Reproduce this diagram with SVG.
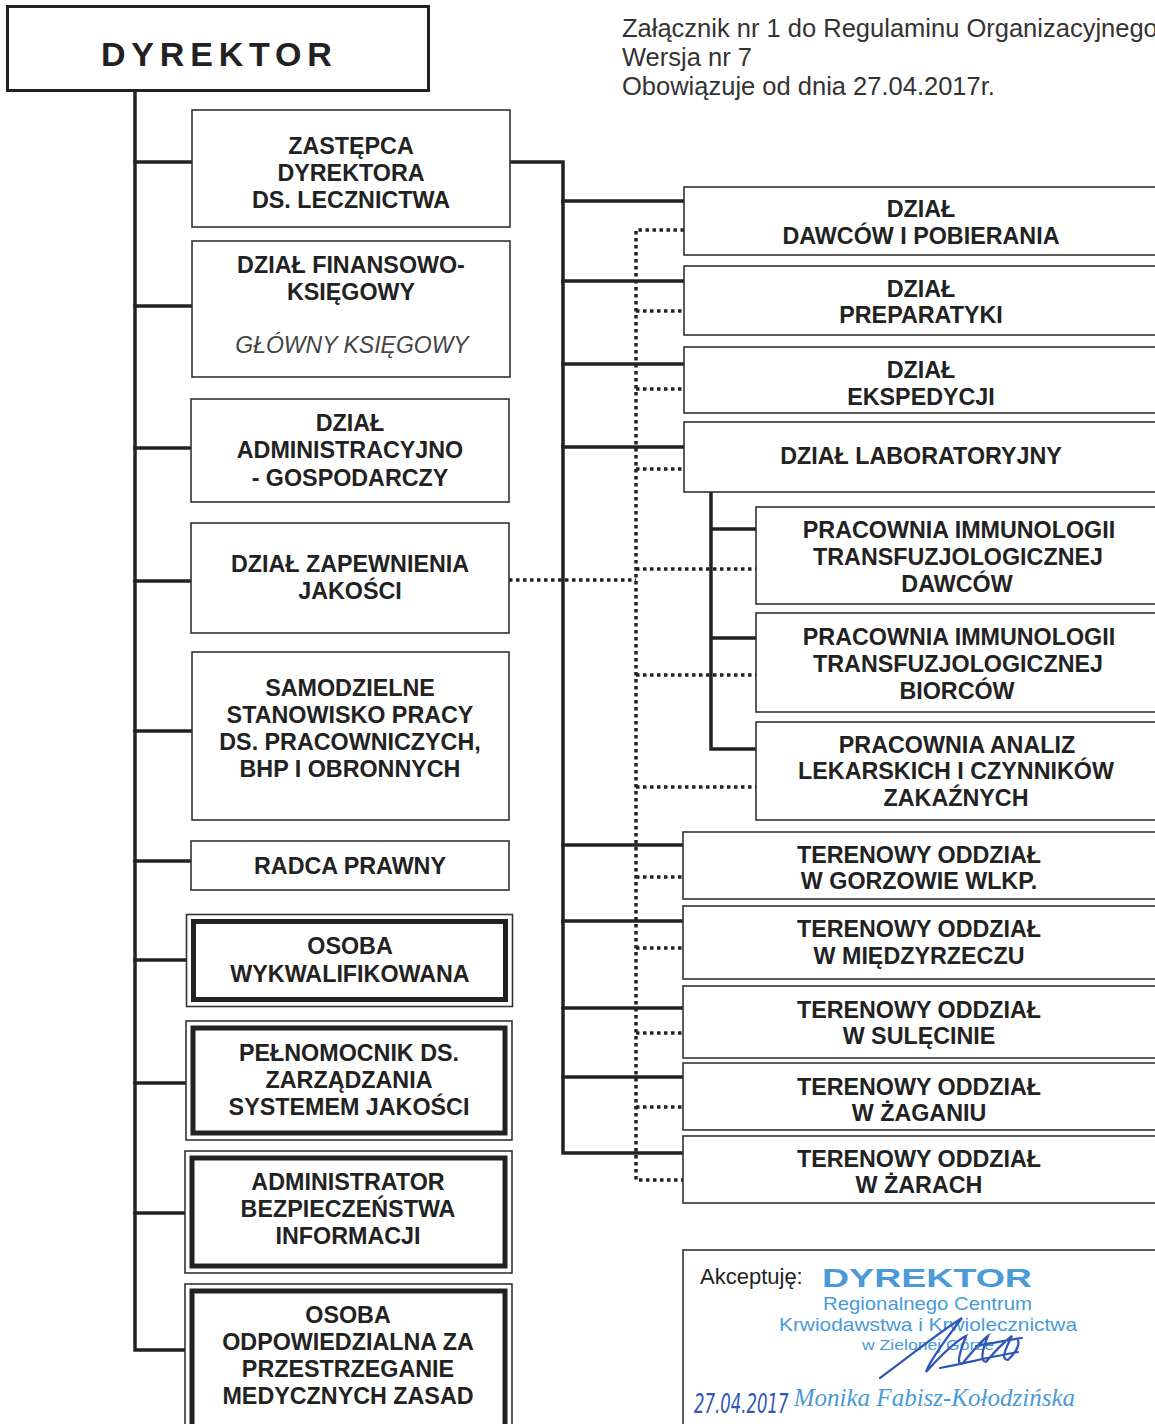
<svg xmlns="http://www.w3.org/2000/svg" width="1155" height="1424" viewBox="0 0 1155 1424">
<style>
.bx{fill:#fff;stroke:#333;stroke-width:1.6}
.thick{fill:none;stroke:#222;stroke-width:5}
.ln{fill:none;stroke:#222;stroke-width:3.5;stroke-linecap:square}
.dot{fill:none;stroke:#222;stroke-width:3.5;stroke-dasharray:3.5 3.5}
.t{font-family:"Liberation Sans",Arial,sans-serif;font-weight:bold;font-size:23.3px;fill:#222;text-anchor:middle}
.it{font-family:"Liberation Sans",Arial,sans-serif;font-style:italic;font-size:23px;fill:#444;text-anchor:middle}
.hd{font-family:"Liberation Sans",Arial,sans-serif;font-size:25.5px;fill:#333}
.st{font-family:"Liberation Sans",Arial,sans-serif;fill:#4a9ad8}
</style>
<rect width="1155" height="1424" fill="#fff"/>

<g id="header">
<text class="hd" x="622" y="37">Załącznik nr 1 do Regulaminu Organizacyjnego</text>
<text class="hd" x="622" y="66">Wersja nr 7</text>
<text class="hd" x="622" y="95">Obowiązuje od dnia 27.04.2017r.</text>
</g>

<g id="connectors">
<path class="ln" d="M135,91 V1350 H185"/>
<path class="ln" d="M135,162 H192 M135,306 H192 M135,448 H191 M135,581 H191 M135,731 H192 M135,861 H191 M135,960 H186 M135,1083 H186 M135,1213 H185"/>
<path class="ln" d="M510,162 H563 V1153 H683"/>
<path class="ln" d="M563,201 H684 M563,281 H684 M563,364 H684 M563,447 H684 M563,845 H683 M563,921 H683 M563,1008 H683 M563,1077 H683"/>
<path class="ln" d="M711,493 V749 H756 M711,529 H756 M711,638 H756"/>
<path class="dot" d="M509,580 H636"/>
<path class="dot" d="M684,230 H636 V1180 H683"/>
<path class="dot" d="M636,311 H684 M636,389 H684 M636,469 H684 M636,569 H756 M636,675 H756 M636,787 H756 M636,877 H683 M636,948 H683 M636,1033 H683 M636,1107 H683"/>
</g>

<g id="dyrektor">
<rect x="7.5" y="6.5" width="421" height="84" fill="#fff" stroke="#222" stroke-width="3"/>
<text x="101" y="66" font-family="Liberation Sans,Arial,sans-serif" font-weight="bold" font-size="34" letter-spacing="5.8" fill="#222">DYREKTOR</text>
</g>

<g id="zastepca">
<rect class="bx" x="192" y="110" width="318" height="117"/>
<text class="t" x="351" y="154">ZASTĘPCA</text>
<text class="t" x="351" y="181">DYREKTORA</text>
<text class="t" x="351" y="208">DS. LECZNICTWA</text>
</g>

<g id="finansowy">
<rect class="bx" x="192" y="241" width="318" height="136"/>
<text class="t" x="351" y="273">DZIAŁ FINANSOWO-</text>
<text class="t" x="351" y="300">KSIĘGOWY</text>
<text class="it" x="352" y="353">GŁÓWNY KSIĘGOWY</text>
</g>

<g id="administracyjny">
<rect class="bx" x="191" y="399" width="318" height="103"/>
<text class="t" x="350" y="431">DZIAŁ</text>
<text class="t" x="350" y="458">ADMINISTRACYJNO</text>
<text class="t" x="350" y="486">- GOSPODARCZY</text>
</g>

<g id="jakosc">
<rect class="bx" x="191" y="523" width="318" height="110"/>
<text class="t" x="350" y="572">DZIAŁ ZAPEWNIENIA</text>
<text class="t" x="350" y="599">JAKOŚCI</text>
</g>

<g id="samodzielne">
<rect class="bx" x="192" y="652" width="317" height="168"/>
<text class="t" x="350" y="696">SAMODZIELNE</text>
<text class="t" x="350" y="723">STANOWISKO PRACY</text>
<text class="t" x="350" y="750">DS. PRACOWNICZYCH,</text>
<text class="t" x="350" y="777">BHP I OBRONNYCH</text>
</g>

<g id="radca">
<rect class="bx" x="191" y="841" width="318" height="49"/>
<text class="t" x="350" y="874">RADCA PRAWNY</text>
</g>

<g id="osoba-wykwalifikowana">
<rect class="bx" x="186.5" y="914.5" width="326" height="92"/>
<rect class="thick" x="193.5" y="921.5" width="312" height="78"/>
<text class="t" x="350" y="954">OSOBA</text>
<text class="t" x="350" y="982">WYKWALIFIKOWANA</text>
</g>

<g id="pelnomocnik">
<rect class="bx" x="186" y="1021" width="326" height="119"/>
<rect class="thick" x="193" y="1028" width="312" height="105"/>
<text class="t" x="349" y="1061">PEŁNOMOCNIK DS.</text>
<text class="t" x="349" y="1088">ZARZĄDZANIA</text>
<text class="t" x="349" y="1115">SYSTEMEM JAKOŚCI</text>
</g>

<g id="abi">
<rect class="bx" x="185" y="1151" width="327" height="122"/>
<rect class="thick" x="192" y="1158" width="313" height="108"/>
<text class="t" x="348" y="1190">ADMINISTRATOR</text>
<text class="t" x="348" y="1217">BEZPIECZEŃSTWA</text>
<text class="t" x="348" y="1244">INFORMACJI</text>
</g>

<g id="osoba-odpowiedzialna">
<rect class="bx" x="185" y="1284" width="327" height="170"/>
<rect class="thick" x="192" y="1291" width="313" height="160"/>
<text class="t" x="348" y="1323">OSOBA</text>
<text class="t" x="348" y="1350">ODPOWIEDZIALNA ZA</text>
<text class="t" x="348" y="1377">PRZESTRZEGANIE</text>
<text class="t" x="348" y="1404">MEDYCZNYCH ZASAD</text>
</g>

<g id="dawcow">
<rect class="bx" x="684" y="187" width="480" height="68"/>
<text class="t" x="921" y="217">DZIAŁ</text>
<text class="t" x="921" y="244">DAWCÓW I POBIERANIA</text>
</g>

<g id="preparatyki">
<rect class="bx" x="684" y="266" width="480" height="69"/>
<text class="t" x="921" y="297">DZIAŁ</text>
<text class="t" x="921" y="323">PREPARATYKI</text>
</g>

<g id="ekspedycji">
<rect class="bx" x="684" y="347" width="480" height="66"/>
<text class="t" x="921" y="378">DZIAŁ</text>
<text class="t" x="921" y="405">EKSPEDYCJI</text>
</g>

<g id="laboratoryjny">
<rect class="bx" x="684" y="422" width="480" height="70"/>
<text class="t" x="921" y="464">DZIAŁ LABORATORYJNY</text>
</g>

<g id="pracownia-dawcow">
<rect class="bx" x="756" y="507" width="408" height="97"/>
<text class="t" x="959" y="538">PRACOWNIA IMMUNOLOGII</text>
<text class="t" x="958" y="565">TRANSFUZJOLOGICZNEJ</text>
<text class="t" x="957" y="592">DAWCÓW</text>
</g>

<g id="pracownia-biorcow">
<rect class="bx" x="756" y="613" width="408" height="99"/>
<text class="t" x="959" y="645">PRACOWNIA IMMUNOLOGII</text>
<text class="t" x="958" y="672">TRANSFUZJOLOGICZNEJ</text>
<text class="t" x="957" y="699">BIORCÓW</text>
</g>

<g id="pracownia-analiz">
<rect class="bx" x="756" y="722" width="408" height="98"/>
<text class="t" x="957" y="753">PRACOWNIA ANALIZ</text>
<text class="t" x="956" y="779">LEKARSKICH I CZYNNIKÓW</text>
<text class="t" x="956" y="806">ZAKAŹNYCH</text>
</g>

<g id="to-gorzow">
<rect class="bx" x="683" y="832" width="481" height="67"/>
<text class="t" x="919" y="863">TERENOWY ODDZIAŁ</text>
<text class="t" x="919" y="889">W GORZOWIE WLKP.</text>
</g>

<g id="to-miedzyrzecz">
<rect class="bx" x="683" y="906" width="481" height="73"/>
<text class="t" x="919" y="937">TERENOWY ODDZIAŁ</text>
<text class="t" x="919" y="964">W MIĘDZYRZECZU</text>
</g>

<g id="to-sulecin">
<rect class="bx" x="683" y="986" width="481" height="72"/>
<text class="t" x="919" y="1018">TERENOWY ODDZIAŁ</text>
<text class="t" x="919" y="1044">W SULĘCINIE</text>
</g>

<g id="to-zagan">
<rect class="bx" x="683" y="1063" width="481" height="67"/>
<text class="t" x="919" y="1095">TERENOWY ODDZIAŁ</text>
<text class="t" x="919" y="1121">W ŻAGANIU</text>
</g>

<g id="to-zary">
<rect class="bx" x="683" y="1136" width="481" height="67"/>
<text class="t" x="919" y="1167">TERENOWY ODDZIAŁ</text>
<text class="t" x="919" y="1193">W ŻARACH</text>
</g>

<g id="akceptacja">
<rect class="bx" x="683" y="1250" width="481" height="190"/>
<text x="700" y="1284" font-family="Liberation Sans,Arial,sans-serif" font-size="22" fill="#222">Akceptuję:</text>
<text class="st" x="822" y="1287" font-size="26" font-weight="bold" textLength="210" lengthAdjust="spacingAndGlyphs">DYREKTOR</text>
<text class="st" x="823" y="1310" font-size="19" textLength="209" lengthAdjust="spacingAndGlyphs">Regionalnego Centrum</text>
<text class="st" x="779" y="1331" font-size="19" textLength="298" lengthAdjust="spacingAndGlyphs">Krwiodawstwa i Krwiolecznictwa</text>
<text class="st" x="862" y="1350" font-size="15" textLength="132" lengthAdjust="spacingAndGlyphs">w Zielonej Górze</text>
<text x="1075" y="1406" font-family="Liberation Serif,Times New Roman,serif" font-style="italic" font-size="25" fill="#4a9ad8" text-anchor="end">Monika Fabisz-Kołodzińska</text>
<path d="M880,1378 C905,1360 935,1335 962,1318 C945,1340 930,1360 926,1372 C944,1352 958,1340 966,1336 C960,1352 956,1364 962,1364 C972,1352 980,1342 988,1336 C982,1350 980,1362 986,1362 C996,1350 1004,1342 1012,1336 C1006,1348 1000,1360 1008,1360 C1016,1352 1020,1346 1018,1340 M976,1346 C990,1344 1005,1340 1022,1338 M940,1368 C970,1362 995,1356 1018,1352" fill="none" stroke="#2f55b8" stroke-width="2.2" stroke-linecap="round"/>
<text transform="translate(694,1413) scale(1,1.6)" x="0" y="0" font-family="DejaVu Sans,sans-serif" font-style="italic" font-size="16.5" fill="#2f55b8">27.04.2017</text>
</g>
</svg>
